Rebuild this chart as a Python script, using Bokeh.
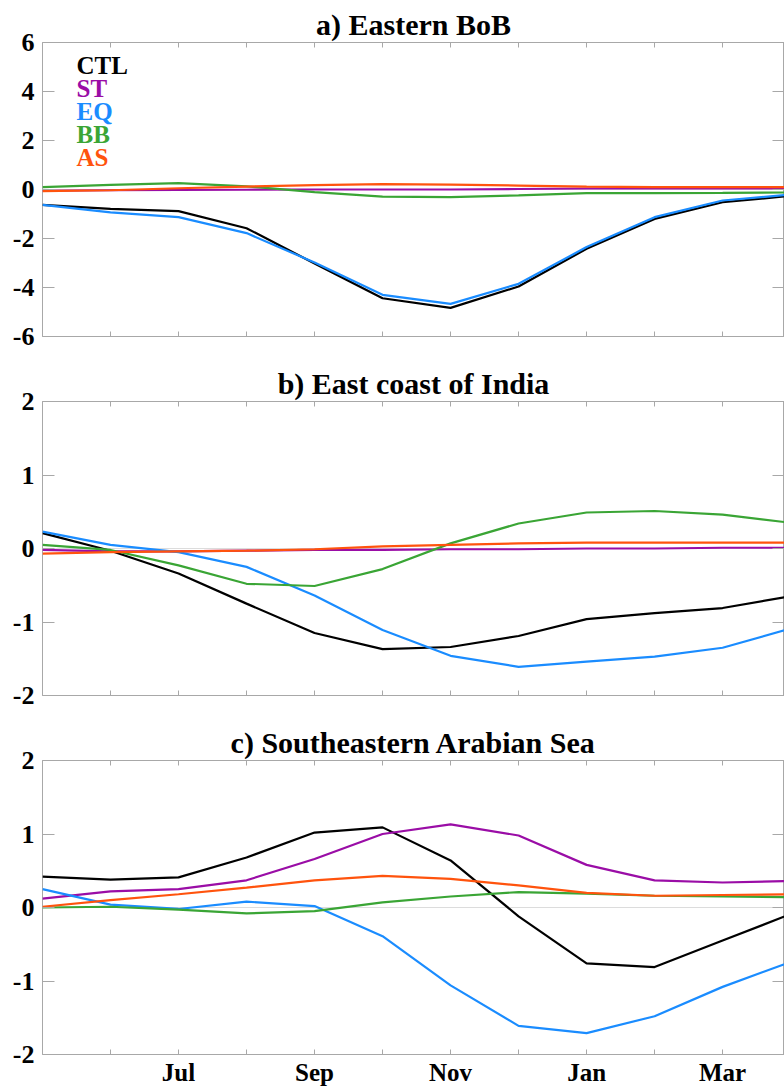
from bokeh.plotting import figure
from bokeh.models import Range1d, FixedTicker, LinearAxis, Span, Label
from bokeh.layouts import column
from bokeh.embed import file_html
from bokeh.resources import INLINE

# ---------------- data ----------------
months = ["May", "Jun", "Jul", "Aug", "Sep", "Oct", "Nov", "Dec", "Jan", "Feb", "Mar", "Apr"]
month_idx = list(range(len(months)))
labelled_months = ["Jul", "Sep", "Nov", "Jan", "Mar"]

series_names = ["CTL", "ST", "EQ", "BB", "AS"]
series_colors = ["#000000", "#9A0DA6", "#1A8CFF", "#3AA535", "#FF530D"]

# a) Eastern BoB
a_ctl = [-0.63, -0.79, -0.88, -1.58, -3.02, -4.44, -4.83, -3.96, -2.42, -1.20, -0.52, -0.26]
a_st = [-0.05, -0.03, -0.02, -0.01, 0.00, 0.00, 0.00, 0.02, 0.04, 0.04, 0.04, 0.04]
a_eq = [-0.63, -0.93, -1.13, -1.78, -2.98, -4.30, -4.67, -3.85, -2.35, -1.13, -0.45, -0.21]
a_bb = [0.10, 0.19, 0.26, 0.13, -0.11, -0.29, -0.31, -0.24, -0.15, -0.15, -0.14, -0.12]
a_as = [-0.07, -0.03, 0.05, 0.12, 0.18, 0.22, 0.20, 0.16, 0.12, 0.10, 0.10, 0.10]

# b) East coast of India
b_ctl = [0.21, -0.03, -0.34, -0.75, -1.15, -1.37, -1.34, -1.19, -0.96, -0.88, -0.81, -0.65]
b_st = [-0.02, -0.04, -0.04, -0.03, -0.02, -0.02, -0.01, -0.01, 0.00, 0.00, 0.01, 0.01]
b_eq = [0.23, 0.05, -0.05, -0.25, -0.64, -1.11, -1.46, -1.61, -1.54, -1.47, -1.35, -1.09]
b_bb = [0.05, -0.02, -0.23, -0.48, -0.51, -0.28, 0.07, 0.34, 0.49, 0.51, 0.46, 0.35]
b_as = [-0.07, -0.05, -0.04, -0.03, -0.01, 0.03, 0.05, 0.07, 0.08, 0.08, 0.08, 0.08]

# c) Southeastern Arabian Sea
c_ctl = [0.42, 0.38, 0.41, 0.68, 1.02, 1.09, 0.64, -0.12, -0.76, -0.81, -0.45, -0.09]
c_st = [0.12, 0.22, 0.25, 0.37, 0.66, 1.00, 1.13, 0.98, 0.58, 0.37, 0.34, 0.36]
c_eq = [0.25, 0.04, -0.02, 0.08, 0.02, -0.39, -1.06, -1.61, -1.71, -1.48, -1.08, -0.74]
c_bb = [0.00, 0.01, -0.03, -0.08, -0.05, 0.07, 0.15, 0.21, 0.19, 0.16, 0.15, 0.14]
c_as = [0.01, 0.10, 0.18, 0.27, 0.37, 0.43, 0.39, 0.30, 0.20, 0.16, 0.17, 0.18]

panel_titles = ["a) Eastern BoB", "b) East coast of India", "c) Southeastern Arabian Sea"]
y_limits = [(-6, 6), (-2, 2), (-2, 2)]
y_tick_values = [[-6, -4, -2, 0, 2, 4, 6], [-2, -1, 0, 1, 2], [-2, -1, 0, 1, 2]]
panel_series = [
    [a_ctl, a_st, a_eq, a_bb, a_as],
    [b_ctl, b_st, b_eq, b_bb, b_as],
    [c_ctl, c_st, c_eq, c_bb, c_as],
]

# ---------------- style ----------------
FONT = "Liberation Serif"
FRAME = "#A8A8A8"
W = 784


def hidden_labels(axis):
    axis.major_label_text_color = None
    axis.major_label_text_font_size = "1px"
    axis.major_label_standoff = 0


def make_panel(k, height, border_bottom, show_xlabels, show_legend):
    ylo, yhi = y_limits[k]
    p = figure(width=W, height=height, output_backend="svg", toolbar_location=None,
               x_range=Range1d(0, 10.91), y_range=Range1d(ylo, yhi),
               min_border_left=42, min_border_right=0, min_border_top=42,
               min_border_bottom=border_bottom, tools="")
    p.grid.visible = False
    p.outline_line_color = FRAME
    p.outline_line_width = 1
    p.background_fill_color = "white"
    p.border_fill_color = "white"

    p.title.text = panel_titles[k]
    p.title.align = "center"
    p.title.text_font = FONT
    p.title.text_font_style = "bold"
    p.title.text_font_size = "30px"
    p.title.text_color = "black"
    p.title.standoff = 4
    p.title.offset = 0

    overrides = {i: (m if m in labelled_months else "") for i, m in zip(month_idx, months)}

    xa = p.xaxis[0]
    xa.ticker = FixedTicker(ticks=month_idx)
    xa.axis_line_color = None
    xa.major_tick_in = 5
    xa.major_tick_out = 0
    xa.major_tick_line_color = FRAME
    xa.minor_tick_line_color = None
    if show_xlabels:
        xa.major_label_overrides = overrides
        xa.major_label_standoff = 4
        xa.major_label_text_font = FONT
        xa.major_label_text_font_style = "bold"
        xa.major_label_text_color = "black"
        xa.major_label_text_font_size = "25px"
    else:
        hidden_labels(xa)

    ya = p.yaxis[0]
    ya.ticker = FixedTicker(ticks=y_tick_values[k])
    ya.major_label_overrides = {v: str(v) for v in y_tick_values[k]}
    ya.axis_line_color = None
    ya.major_tick_in = 12
    ya.major_tick_out = 0
    ya.major_tick_line_color = FRAME
    ya.minor_tick_line_color = None
    ya.major_label_standoff = 8
    ya.major_label_text_font = FONT
    ya.major_label_text_font_style = "bold"
    ya.major_label_text_color = "black"
    ya.major_label_text_font_size = "26px"

    top = LinearAxis(ticker=FixedTicker(ticks=month_idx), axis_line_color=None,
                     major_tick_in=5, major_tick_out=0, major_tick_line_color=FRAME,
                     minor_tick_line_color=None)
    hidden_labels(top)
    p.add_layout(top, "above")
    right = LinearAxis(ticker=FixedTicker(ticks=y_tick_values[k]), axis_line_color=None,
                       major_tick_in=12, major_tick_out=0, major_tick_line_color=FRAME,
                       minor_tick_line_color=None)
    hidden_labels(right)
    p.add_layout(right, "right")

    p.add_layout(Span(location=0, dimension="width", line_color="#DCDCDC",
                      line_width=1, level="underlay"))

    for name, col, vals in zip(series_names, series_colors, panel_series[k]):
        p.line(month_idx, vals, line_color=col, line_width=2.2)

    if show_legend:
        for i, (name, col) in enumerate(zip(series_names, series_colors)):
            p.add_layout(Label(x=0, y=yhi, x_offset=34, y_offset=-23 - 23 * i,
                               text=name, text_align="left", text_baseline="middle",
                               text_font=FONT, text_font_style="bold",
                               text_font_size="25px", text_color=col))
    return p


pa = make_panel(0, 359, 23, False, True)
pb = make_panel(1, 359, 23, False, False)
pc = make_panel(2, 373, 37, True, False)

layout = column(pa, pb, pc)
open("out.html", "w").write(file_html(layout, INLINE))
